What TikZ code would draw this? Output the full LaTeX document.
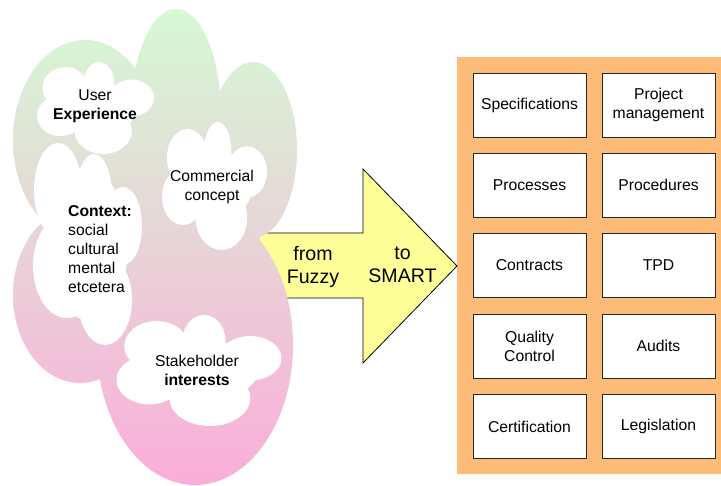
\documentclass[tikz,border=0pt]{standalone}
\usepackage{fontspec}
\setmainfont{Liberation Sans}
\usetikzlibrary{shadows}
\definecolor{blobtop}{HTML}{D5F9D5}
\definecolor{blobbot}{HTML}{FBADD9}
\definecolor{panelfill}{HTML}{FCBC78}
\definecolor{arrowfill}{HTML}{FFFF99}
\newcommand\fsnorm{\fontsize{15.7}{19}\selectfont}
\newcommand\fsbig{\fontsize{19.6}{23}\selectfont}
% PowerPoint-like cloud: centre x, centre y, width, height
\newcommand\pptcloud[4]{%
  \begin{scope}[shift={(#1,#2)}, xscale=#3, yscale=#4]
    \fill[cloudfill]
      (-0.300,0.085) ellipse [x radius=0.200, y radius=0.220]
      (-0.258,-0.220) ellipse [x radius=0.195, y radius=0.225]
      (0.030,-0.270) ellipse [x radius=0.130, y radius=0.230]
      (0.310,-0.110) ellipse [x radius=0.190, y radius=0.200]
      (0.066,0.250) ellipse [x radius=0.245, y radius=0.250]
      (0.000,0.000) ellipse [x radius=0.360, y radius=0.280];
  \end{scope}}
\begin{document}
\begin{tikzpicture}[x=1pt,y=-1pt,
  cloudfill/.style={fill=white},
  item/.style={draw=black!85, line width=0.8pt, fill=white, minimum width=113pt, minimum height=64pt, inner sep=0pt, align=center, font=\fsnorm, general shadow={shadow xshift=1pt, shadow yshift=-1pt, fill=black!60}},
  lbl/.style={inner sep=0pt, font=\fsnorm, align=center},
  biglbl/.style={inner sep=0pt, font=\fsbig, align=center},
  ]
\useasboundingbox (0,0) rectangle (721,486);
% panel
\fill[panelfill] (457,57) rectangle (721,474);
% arrow
\filldraw[fill=arrowfill, draw=black, line width=0.8pt, line join=miter]
  (250,233) -- (363,233) -- (363,169) -- (457,266) -- (363,363) -- (363,298) -- (250,298) -- cycle;
% blob
\shade[top color=blobtop, bottom color=blobbot]
  (85,140) ellipse [x radius=72, y radius=100]
  (80,295) ellipse [x radius=67, y radius=88]
  (176,115) ellipse [x radius=45, y radius=106]
  (253,150) ellipse [x radius=44, y radius=88]
  (195,345) ellipse [x radius=98, y radius=140]
  (170,230) ellipse [x radius=90, y radius=120];
% clouds
\pptcloud{95.5}{108}{117}{92}
\pptcloud{214.5}{186}{105}{128}
\pptcloud{199}{370.5}{165}{111}
\fill[cloudfill]
  (58,190) ellipse [x radius=24, y radius=47]
  (94,195) ellipse [x radius=18, y radius=41]
  (123,226) ellipse [x radius=19, y radius=39]
  (105,300) ellipse [x radius=27, y radius=45]
  (67,266) ellipse [x radius=34, y radius=52]
  (88,245) ellipse [x radius=40, y radius=75];
% cloud texts
\node[lbl] (ux) at (95,106.5) {User\\\textbf{Experience}};
\node[lbl] (com) at (212,186.5) {Commercial\\concept};
\node[lbl] (stk) at (197,370) {Stakeholder\\\textbf{interests}};
\node[lbl, align=left, anchor=west] (ctx) at (68,249) {\textbf{Context:}\\social\\cultural\\mental\\etcetera};
% arrow texts
\node[biglbl] (from) at (313,266.5) {from\\Fuzzy};
\node[biglbl] (to) at (402.5,265) {to\\SMART};
% boxes
\node[item] (spec) at (529.5,105) {Specifications};
\node[item] (pm) at (658.5,105) {Project\\management};
\node[item] (proc) at (529.5,185) {Processes};
\node[item] (pced) at (658.5,185) {Procedures};
\node[item] (contr) at (529.5,265.5) {Contracts};
\node[item] (tpd) at (658.5,265.5) {TPD};
\node[item] (qc) at (529.5,346) {Quality\\Control};
\node[item] (aud) at (658.5,346) {Audits};
\node[item] (cert) at (529.5,426.5) {Certification};
\node[item] (leg) at (658.5,426.5) {Legislation};
\end{tikzpicture}
\end{document}
